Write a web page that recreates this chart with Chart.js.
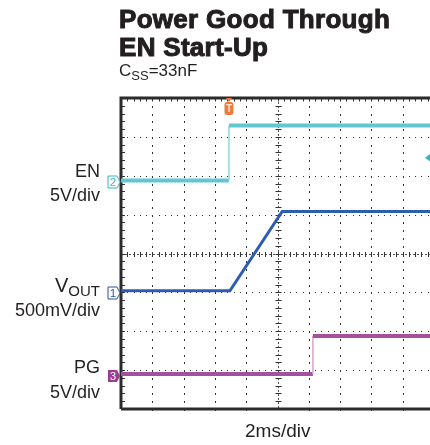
<!DOCTYPE html>
<html>
<head>
<meta charset="utf-8">
<script src="https://cdn.jsdelivr.net/npm/chart.js@4.4.1/dist/chart.umd.min.js"></script>
<style>
  html, body { margin: 0; padding: 0; background: #fff; overflow: hidden; width: 430px; height: 445px; }
  #wrap { position: relative; width: 440px; height: 445px; }
  #wrap canvas { position: absolute; left: 0; top: 0; }
  .lbl { position: absolute; font-family: "Liberation Sans", Arial, sans-serif; color: #231f20; line-height: 1; white-space: nowrap; }
  .title { left: 119px; font-size: 26px; font-weight: 700; -webkit-text-stroke: 1px #231f20; letter-spacing: 0.3px; }
  .side { right: 340px; font-size: 18px; text-align: right; }
  .side sub { font-size: 15px; vertical-align: -4px; line-height: 0; }
</style>
</head>
<body>
<div id="wrap">
  <canvas id="scope" width="440" height="445"></canvas>
  <div class="lbl title" style="top:6px">Power Good Through</div>
  <div class="lbl title" style="top:34px">EN Start-Up</div>
  <div class="lbl" style="left:119px; top:62px; font-size:17px">C<sub style="font-size:13px; vertical-align:-4px; line-height:0">SS</sub>=33nF</div>
  <div class="lbl side" style="top:162px">EN</div>
  <div class="lbl side" style="top:186px">5V/div</div>
  <div class="lbl side" style="top:275px; font-size:20px">V<sub>OUT</sub></div>
  <div class="lbl side" style="top:301px">500mV/div</div>
  <div class="lbl side" style="top:358px">PG</div>
  <div class="lbl side" style="top:383px">5V/div</div>
  <div class="lbl" style="left:245px; top:421px; font-size:19px">2ms/div</div>
</div>
<script>
// time axis in ms, 2 ms per division, 10 divisions
const timeMin = 0;
const timeMax = 20;
const msPerDiv = 2;
// vertical axis in screen divisions (8 divisions)
const divMin = 0;
const divMax = 8;

// EN (ch2)
const enTime  = [0, 6.9, 6.9, 20];
const enLevel = [5.88, 5.88, 7.29, 7.29];
// VOUT (ch1)
const voutTime  = [0, 6.96, 10.3, 20];
const voutLevel = [3.04, 3.04, 5.08, 5.08];
// PG (ch3)
const pgTime  = [0, 12.26, 12.26, 20];
const pgLevel = [0.9, 0.9, 1.88, 1.88];

// channel ground markers and trigger
const chanNames  = ['2', '1', '3'];
const chanLevels = [5.88, 3.04, 0.9];
const chanColors = ['#3bb3bc', '#2f4f9f', '#9b3d95'];
const triggerTime = 6.9;
const triggerLevel = 6.46;

const toPoints = (t, v) => t.map((tt, i) => ({ x: tt, y: v[i] }));

// thin, light vertical edges like the scope's fast transitions
const edgeSeg = (light, w) => ({
  borderColor: c => c.p0.parsed.x === c.p1.parsed.x ? light : undefined,
  borderWidth: c => c.p0.parsed.x === c.p1.parsed.x ? w : undefined
});

const scopeGrid = {
  id: 'scopeGrid',
  beforeDatasetsDraw(chart) {
    const { ctx, chartArea: a, scales: { x, y } } = chart;
    const nx = (timeMax - timeMin) / msPerDiv;
    const ny = divMax - divMin;
    ctx.save();
    ctx.fillStyle = '#333';
    // dotted grid lines (5 dots per division)
    for (let i = 1; i < nx; i++) {
      if (i === nx / 2) continue;
      const px = Math.round(x.getPixelForValue(i * msPerDiv));
      for (let j = 0; j <= ny * 5; j++) {
        ctx.fillRect(px, Math.round(y.getPixelForValue(j / 5)), 1, 2);
      }
    }
    for (let j = 1; j < ny; j++) {
      if (j === ny / 2) continue;
      const py = Math.round(y.getPixelForValue(j));
      for (let i = 0; i <= nx * 5; i++) {
        ctx.fillRect(Math.round(x.getPixelForValue(i * msPerDiv / 5)), py, 1, 1);
      }
    }
    // centre cross with minor ticks
    const cx = Math.round(x.getPixelForValue((timeMin + timeMax) / 2)) + 0.5;
    const cy = Math.round(y.getPixelForValue((divMin + divMax) / 2)) + 0.5;
    ctx.strokeStyle = '#555';
    ctx.lineWidth = 1;
    ctx.setLineDash([2, 2]);
    ctx.beginPath();
    ctx.moveTo(cx, a.top); ctx.lineTo(cx, a.bottom);
    ctx.moveTo(a.left, cy); ctx.lineTo(a.right, cy);
    ctx.stroke();
    ctx.setLineDash([]);
    ctx.strokeStyle = '#333';
    ctx.beginPath();
    for (let j = 0; j <= ny * 5; j++) {
      const py = Math.round(y.getPixelForValue(j / 5)) + 0.5;
      ctx.moveTo(cx - 3, py); ctx.lineTo(cx + 3, py);
    }
    for (let i = 0; i <= nx * 5; i++) {
      const px = Math.round(x.getPixelForValue(i * msPerDiv / 5)) + 0.5;
      ctx.moveTo(px, cy - 2.5); ctx.lineTo(px, cy + 2.5);
    }
    ctx.stroke();
    // frame ticks on left and top edges
    ctx.beginPath();
    for (let j = 0; j <= ny * 5; j++) {
      const py = Math.round(y.getPixelForValue(j / 5)) + 0.5;
      ctx.moveTo(a.left, py); ctx.lineTo(a.left + 4, py);
    }
    for (let i = 0; i <= nx * 5; i++) {
      const px = Math.round(x.getPixelForValue(i * msPerDiv / 5)) + 0.5;
      ctx.moveTo(px, a.top); ctx.lineTo(px, a.top + 3.5);
    }
    ctx.stroke();
    // frame
    ctx.strokeStyle = '#2b2b2b';
    ctx.lineWidth = 3;
    ctx.beginPath();
    ctx.moveTo(a.left, a.bottom); ctx.lineTo(a.left, a.top); ctx.lineTo(a.right + 10, a.top);
    ctx.moveTo(a.left, a.bottom); ctx.lineTo(a.right + 10, a.bottom);
    ctx.stroke();
    ctx.restore();
  },
  afterDatasetsDraw(chart) {
    const { ctx, chartArea: a, scales: { x, y } } = chart;
    ctx.save();
    // channel ground markers
    chanNames.forEach((n, k) => {
      const py = Math.round(y.getPixelForValue(chanLevels[k])) + 2;
      const l = a.left - 13, r = a.left - 4, t = py - 6, b = py + 6;
      ctx.beginPath();
      ctx.moveTo(l, t); ctx.lineTo(r, t); ctx.lineTo(r + 3, py); ctx.lineTo(r, b); ctx.lineTo(l, b); ctx.closePath();
      if (n === '3') {
        ctx.fillStyle = chanColors[k]; ctx.fill();
      } else {
        ctx.fillStyle = '#fff'; ctx.fill();
        ctx.strokeStyle = chanColors[k]; ctx.lineWidth = 1; ctx.stroke();
      }
      ctx.fillStyle = n === '3' ? '#fff' : chanColors[k];
      ctx.font = '11px "Liberation Sans", Arial, sans-serif';
      ctx.textAlign = 'center';
      ctx.textBaseline = 'middle';
      ctx.fillText(n, l + 5, py + 0.5);
    });
    // trigger position marker
    const tx = x.getPixelForValue(triggerTime);
    ctx.fillStyle = '#ef7a3a';
    ctx.beginPath();
    ctx.moveTo(tx - 3, a.top); ctx.lineTo(tx + 3, a.top); ctx.lineTo(tx, a.top + 4); ctx.closePath();
    ctx.fill();
    ctx.beginPath();
    ctx.roundRect(tx - 4.5, a.top + 4, 9, 13, 3);
    ctx.fill();
    ctx.fillStyle = '#fde3d3';
    ctx.font = 'bold 10px "Liberation Sans", Arial, sans-serif';
    ctx.textAlign = 'center';
    ctx.textBaseline = 'middle';
    ctx.fillText('T', tx, a.top + 11);
    // trigger level marker (right edge)
    const ty = y.getPixelForValue(triggerLevel);
    ctx.fillStyle = chanColors[0];
    ctx.beginPath();
    ctx.moveTo(425, ty); ctx.lineTo(431, ty - 4.5); ctx.lineTo(431, ty + 4.5); ctx.closePath();
    ctx.fill();
    ctx.restore();
  }
};

new Chart(document.getElementById('scope'), {
  type: 'line',
  data: {
    datasets: [
      {
        label: 'EN',
        data: toPoints(enTime, enLevel),
        borderColor: '#62c7d2',
        borderWidth: 4,
        segment: edgeSeg('#8fd8df', 1.5)
      },
      {
        label: 'VOUT',
        data: toPoints(voutTime, voutLevel),
        borderColor: '#2d5db1',
        borderWidth: 3
      },
      {
        label: 'PG',
        data: toPoints(pgTime, pgLevel),
        borderColor: '#a3509f',
        borderWidth: 4,
        segment: edgeSeg('#d5a6d3', 1.5)
      }
    ]
  },
  options: {
    responsive: false,
    animation: false,
    events: [],
    layout: { padding: { left: 121, right: 6, top: 98, bottom: 36 } },
    elements: { point: { radius: 0 }, line: { tension: 0 } },
    scales: {
      x: { type: 'linear', min: timeMin, max: timeMax, display: false },
      y: { type: 'linear', min: divMin, max: divMax, display: false }
    },
    plugins: { legend: { display: false }, tooltip: { enabled: false } }
  },
  plugins: [scopeGrid]
});
</script>
</body>
</html>
